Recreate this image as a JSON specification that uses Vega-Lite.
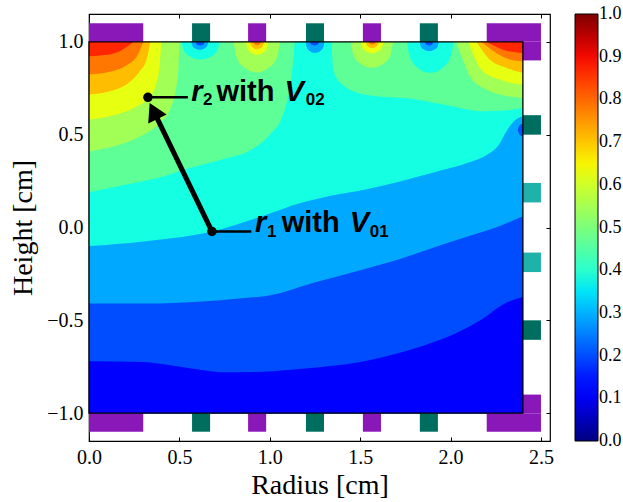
{
"$schema": "https://vega.github.io/schema/vega-lite/v6.json",
"width": 461, "height": 427,
"autosize": "none",
"padding": {"left": 89, "top": 14, "right": 73, "bottom": 61},
"background": "white",
"config": {"view": {"stroke": "black", "strokeWidth": 1.2}, "font": "Liberation Serif"},
"datasets": {
"c": [
{"k":1,"g":"a","v":0.465,"x":0,"y":1,"y2":-1},{"k":1,"g":"a","v":0.465,"x":2.4,"y":1,"y2":-1},
{"k":2,"g":"b","v":0.375,"x":0,"y":0.19,"y2":-1},{"k":2,"g":"b","v":0.375,"x":0.2,"y":0.23,"y2":-1},{"k":2,"g":"b","v":0.375,"x":0.41,"y":0.275,"y2":-1},{"k":2,"g":"b","v":0.375,"x":0.557,"y":0.32,"y2":-1},{"k":2,"g":"b","v":0.375,"x":0.75,"y":0.37,"y2":-1},{"k":2,"g":"b","v":0.375,"x":0.9,"y":0.42,"y2":-1},{"k":2,"g":"b","v":0.375,"x":1.0,"y":0.5,"y2":-1},{"k":2,"g":"b","v":0.375,"x":1.07,"y":0.6,"y2":-1},{"k":2,"g":"b","v":0.375,"x":1.11,"y":0.75,"y2":-1},{"k":2,"g":"b","v":0.375,"x":1.13,"y":0.9,"y2":-1},{"k":2,"g":"b","v":0.375,"x":1.14,"y":1.0,"y2":-1},{"k":2,"g":"b","v":0.375,"x":1.34,"y":1.0,"y2":-1},{"k":2,"g":"b","v":0.375,"x":1.35,"y":0.85,"y2":-1},{"k":2,"g":"b","v":0.375,"x":1.4,"y":0.77,"y2":-1},{"k":2,"g":"b","v":0.375,"x":1.53,"y":0.715,"y2":-1},{"k":2,"g":"b","v":0.375,"x":1.81,"y":0.69,"y2":-1},{"k":2,"g":"b","v":0.375,"x":2.0,"y":0.655,"y2":-1},{"k":2,"g":"b","v":0.375,"x":2.18,"y":0.626,"y2":-1},{"k":2,"g":"b","v":0.375,"x":2.3,"y":0.63,"y2":-1},{"k":2,"g":"b","v":0.375,"x":2.4,"y":0.645,"y2":-1},
{"k":3,"g":"c","v":0.29,"x":0,"y":-0.1,"y2":-1},{"k":3,"g":"c","v":0.29,"x":0.3,"y":-0.075,"y2":-1},{"k":3,"g":"c","v":0.29,"x":0.685,"y":-0.02,"y2":-1},{"k":3,"g":"c","v":0.29,"x":1.0,"y":0.075,"y2":-1},{"k":3,"g":"c","v":0.29,"x":1.165,"y":0.13,"y2":-1},{"k":3,"g":"c","v":0.29,"x":1.33,"y":0.17,"y2":-1},{"k":3,"g":"c","v":0.29,"x":1.53,"y":0.205,"y2":-1},{"k":3,"g":"c","v":0.29,"x":1.9,"y":0.295,"y2":-1},{"k":3,"g":"c","v":0.29,"x":2.1,"y":0.35,"y2":-1},{"k":3,"g":"c","v":0.29,"x":2.2,"y":0.39,"y2":-1},{"k":3,"g":"c","v":0.29,"x":2.27,"y":0.45,"y2":-1},{"k":3,"g":"c","v":0.29,"x":2.31,"y":0.52,"y2":-1},{"k":3,"g":"c","v":0.29,"x":2.36,"y":0.58,"y2":-1},{"k":3,"g":"c","v":0.29,"x":2.4,"y":0.6,"y2":-1},
{"k":4,"g":"d","v":0.2,"x":0,"y":-0.41,"y2":-1},{"k":4,"g":"d","v":0.2,"x":0.3,"y":-0.41,"y2":-1},{"k":4,"g":"d","v":0.2,"x":0.5,"y":-0.405,"y2":-1},{"k":4,"g":"d","v":0.2,"x":0.8,"y":-0.385,"y2":-1},{"k":4,"g":"d","v":0.2,"x":1.05,"y":-0.355,"y2":-1},{"k":4,"g":"d","v":0.2,"x":1.165,"y":-0.32,"y2":-1},{"k":4,"g":"d","v":0.2,"x":1.33,"y":-0.275,"y2":-1},{"k":4,"g":"d","v":0.2,"x":1.5,"y":-0.23,"y2":-1},{"k":4,"g":"d","v":0.2,"x":1.72,"y":-0.17,"y2":-1},{"k":4,"g":"d","v":0.2,"x":1.9,"y":-0.11,"y2":-1},{"k":4,"g":"d","v":0.2,"x":2.09,"y":-0.05,"y2":-1},{"k":4,"g":"d","v":0.2,"x":2.25,"y":0.0,"y2":-1},{"k":4,"g":"d","v":0.2,"x":2.4,"y":0.06,"y2":-1},
{"k":5,"g":"e","v":0.12,"x":0,"y":-0.72,"y2":-1},{"k":5,"g":"e","v":0.12,"x":0.3,"y":-0.725,"y2":-1},{"k":5,"g":"e","v":0.12,"x":0.5,"y":-0.75,"y2":-1},{"k":5,"g":"e","v":0.12,"x":0.76,"y":-0.78,"y2":-1},{"k":5,"g":"e","v":0.12,"x":1.0,"y":-0.775,"y2":-1},{"k":5,"g":"e","v":0.12,"x":1.2,"y":-0.76,"y2":-1},{"k":5,"g":"e","v":0.12,"x":1.5,"y":-0.725,"y2":-1},{"k":5,"g":"e","v":0.12,"x":1.7,"y":-0.68,"y2":-1},{"k":5,"g":"e","v":0.12,"x":1.9,"y":-0.62,"y2":-1},{"k":5,"g":"e","v":0.12,"x":2.05,"y":-0.56,"y2":-1},{"k":5,"g":"e","v":0.12,"x":2.18,"y":-0.49,"y2":-1},{"k":5,"g":"e","v":0.12,"x":2.3,"y":-0.41,"y2":-1},{"k":5,"g":"e","v":0.12,"x":2.4,"y":-0.375,"y2":-1},
{"k":6,"g":"ygL","v":0.545,"x":0,"y":0.41,"y2":1},{"k":6,"g":"ygL","v":0.545,"x":0.15,"y":0.44,"y2":1},{"k":6,"g":"ygL","v":0.545,"x":0.3,"y":0.5,"y2":1},{"k":6,"g":"ygL","v":0.545,"x":0.4,"y":0.57,"y2":1},{"k":6,"g":"ygL","v":0.545,"x":0.45,"y":0.64,"y2":1},{"k":6,"g":"ygL","v":0.545,"x":0.48,"y":0.74,"y2":1},{"k":6,"g":"ygL","v":0.545,"x":0.495,"y":0.86,"y2":1},{"k":6,"g":"ygL","v":0.545,"x":0.5,"y":1,"y2":1},
{"k":6,"g":"ygR","v":0.545,"x":2.03,"y":1,"y2":1},{"k":6,"g":"ygR","v":0.545,"x":2.07,"y":0.9,"y2":1},{"k":6,"g":"ygR","v":0.545,"x":2.106,"y":0.815,"y2":1},{"k":6,"g":"ygR","v":0.545,"x":2.198,"y":0.743,"y2":1},{"k":6,"g":"ygR","v":0.545,"x":2.3,"y":0.71,"y2":1},{"k":6,"g":"ygR","v":0.545,"x":2.4,"y":0.698,"y2":1},
{"k":6,"g":"t1","v":0.375,"x":0.512,"y":1,"y2":1},{"k":6,"g":"t1","v":0.375,"x":0.5225,"y":0.9586,"y2":1},{"k":6,"g":"t1","v":0.375,"x":0.554,"y":0.924,"y2":1},{"k":6,"g":"t1","v":0.375,"x":0.617,"y":0.905,"y2":1},{"k":6,"g":"t1","v":0.375,"x":0.68,"y":0.924,"y2":1},{"k":6,"g":"t1","v":0.375,"x":0.7115,"y":0.9586,"y2":1},{"k":6,"g":"t1","v":0.375,"x":0.722,"y":1,"y2":1},
{"k":6,"g":"t2","v":0.545,"x":0.8,"y":1,"y2":1},{"k":6,"g":"t2","v":0.545,"x":0.8128,"y":0.928,"y2":1},{"k":6,"g":"t2","v":0.545,"x":0.8512,"y":0.868,"y2":1},{"k":6,"g":"t2","v":0.545,"x":0.928,"y":0.835,"y2":1},{"k":6,"g":"t2","v":0.545,"x":1.0048,"y":0.868,"y2":1},{"k":6,"g":"t2","v":0.545,"x":1.0432,"y":0.928,"y2":1},{"k":6,"g":"t2","v":0.545,"x":1.056,"y":1,"y2":1},
{"k":6,"g":"t3","v":0.29,"x":1.198,"y":1,"y2":1},{"k":6,"g":"t3","v":0.29,"x":1.2032,"y":0.9738,"y2":1},{"k":6,"g":"t3","v":0.29,"x":1.2188,"y":0.952,"y2":1},{"k":6,"g":"t3","v":0.29,"x":1.25,"y":0.94,"y2":1},{"k":6,"g":"t3","v":0.29,"x":1.2812,"y":0.952,"y2":1},{"k":6,"g":"t3","v":0.29,"x":1.2968,"y":0.9738,"y2":1},{"k":6,"g":"t3","v":0.29,"x":1.302,"y":1,"y2":1},
{"k":6,"g":"t4","v":0.545,"x":1.448,"y":1,"y2":1},{"k":6,"g":"t4","v":0.545,"x":1.4597,"y":0.939,"y2":1},{"k":6,"g":"t4","v":0.545,"x":1.4948,"y":0.888,"y2":1},{"k":6,"g":"t4","v":0.545,"x":1.565,"y":0.86,"y2":1},{"k":6,"g":"t4","v":0.545,"x":1.6352,"y":0.888,"y2":1},{"k":6,"g":"t4","v":0.545,"x":1.6703,"y":0.939,"y2":1},{"k":6,"g":"t4","v":0.545,"x":1.682,"y":1,"y2":1},
{"k":6,"g":"t5","v":0.375,"x":1.759,"y":1,"y2":1},{"k":6,"g":"t5","v":0.375,"x":1.7718,"y":0.9272,"y2":1},{"k":6,"g":"t5","v":0.375,"x":1.8102,"y":0.8664,"y2":1},{"k":6,"g":"t5","v":0.375,"x":1.887,"y":0.833,"y2":1},{"k":6,"g":"t5","v":0.375,"x":1.9638,"y":0.8664,"y2":1},{"k":6,"g":"t5","v":0.375,"x":2.0022,"y":0.9272,"y2":1},{"k":6,"g":"t5","v":0.375,"x":2.015,"y":1,"y2":1},
{"k":6,"g":"sp","v":0.2,"x":2.372,"y":0.525,"y2":0.525},{"k":6,"g":"sp","v":0.2,"x":2.378,"y":0.506,"y2":0.544},{"k":6,"g":"sp","v":0.2,"x":2.388,"y":0.495,"y2":0.555},{"k":6,"g":"sp","v":0.2,"x":2.4,"y":0.49,"y2":0.56},
{"k":7,"g":"yL","v":0.63,"x":0,"y":0.58,"y2":1},{"k":7,"g":"yL","v":0.63,"x":0.12,"y":0.6,"y2":1},{"k":7,"g":"yL","v":0.63,"x":0.25,"y":0.645,"y2":1},{"k":7,"g":"yL","v":0.63,"x":0.33,"y":0.7,"y2":1},{"k":7,"g":"yL","v":0.63,"x":0.37,"y":0.77,"y2":1},{"k":7,"g":"yL","v":0.63,"x":0.39,"y":0.87,"y2":1},{"k":7,"g":"yL","v":0.63,"x":0.4,"y":1,"y2":1},
{"k":7,"g":"yR","v":0.63,"x":2.097,"y":1,"y2":1},{"k":7,"g":"yR","v":0.63,"x":2.13,"y":0.92,"y2":1},{"k":7,"g":"yR","v":0.63,"x":2.17,"y":0.85,"y2":1},{"k":7,"g":"yR","v":0.63,"x":2.27,"y":0.797,"y2":1},{"k":7,"g":"yR","v":0.63,"x":2.4,"y":0.77,"y2":1},
{"k":7,"g":"u1","v":0.29,"x":0.566,"y":1,"y2":1},{"k":7,"g":"u1","v":0.29,"x":0.5707,"y":0.9813,"y2":1},{"k":7,"g":"u1","v":0.29,"x":0.5848,"y":0.9656,"y2":1},{"k":7,"g":"u1","v":0.29,"x":0.613,"y":0.957,"y2":1},{"k":7,"g":"u1","v":0.29,"x":0.6412,"y":0.9656,"y2":1},{"k":7,"g":"u1","v":0.29,"x":0.6553,"y":0.9813,"y2":1},{"k":7,"g":"u1","v":0.29,"x":0.66,"y":1,"y2":1},
{"k":7,"g":"u2","v":0.63,"x":0.868,"y":1,"y2":1},{"k":7,"g":"u2","v":0.63,"x":0.8742,"y":0.9695,"y2":1},{"k":7,"g":"u2","v":0.63,"x":0.8928,"y":0.944,"y2":1},{"k":7,"g":"u2","v":0.63,"x":0.93,"y":0.93,"y2":1},{"k":7,"g":"u2","v":0.63,"x":0.9672,"y":0.944,"y2":1},{"k":7,"g":"u2","v":0.63,"x":0.9858,"y":0.9695,"y2":1},{"k":7,"g":"u2","v":0.63,"x":0.992,"y":1,"y2":1},
{"k":7,"g":"u3","v":0.2,"x":1.222,"y":1,"y2":1},{"k":7,"g":"u3","v":0.2,"x":1.2245,"y":0.9913,"y2":1},{"k":7,"g":"u3","v":0.2,"x":1.232,"y":0.984,"y2":1},{"k":7,"g":"u3","v":0.2,"x":1.247,"y":0.98,"y2":1},{"k":7,"g":"u3","v":0.2,"x":1.262,"y":0.984,"y2":1},{"k":7,"g":"u3","v":0.2,"x":1.2695,"y":0.9913,"y2":1},{"k":7,"g":"u3","v":0.2,"x":1.272,"y":1,"y2":1},
{"k":7,"g":"u4","v":0.63,"x":1.503,"y":1,"y2":1},{"k":7,"g":"u4","v":0.63,"x":1.5093,"y":0.973,"y2":1},{"k":7,"g":"u4","v":0.63,"x":1.5282,"y":0.9504,"y2":1},{"k":7,"g":"u4","v":0.63,"x":1.566,"y":0.938,"y2":1},{"k":7,"g":"u4","v":0.63,"x":1.6038,"y":0.9504,"y2":1},{"k":7,"g":"u4","v":0.63,"x":1.6227,"y":0.973,"y2":1},{"k":7,"g":"u4","v":0.63,"x":1.629,"y":1,"y2":1},
{"k":7,"g":"u5","v":0.29,"x":1.829,"y":1,"y2":1},{"k":7,"g":"u5","v":0.29,"x":1.8343,"y":0.9782,"y2":1},{"k":7,"g":"u5","v":0.29,"x":1.8502,"y":0.96,"y2":1},{"k":7,"g":"u5","v":0.29,"x":1.882,"y":0.95,"y2":1},{"k":7,"g":"u5","v":0.29,"x":1.9138,"y":0.96,"y2":1},{"k":7,"g":"u5","v":0.29,"x":1.9297,"y":0.9782,"y2":1},{"k":7,"g":"u5","v":0.29,"x":1.935,"y":1,"y2":1},
{"k":8,"g":"oyL","v":0.71,"x":0,"y":0.716,"y2":1},{"k":8,"g":"oyL","v":0.71,"x":0.12,"y":0.735,"y2":1},{"k":8,"g":"oyL","v":0.71,"x":0.22,"y":0.78,"y2":1},{"k":8,"g":"oyL","v":0.71,"x":0.28,"y":0.84,"y2":1},{"k":8,"g":"oyL","v":0.71,"x":0.32,"y":0.91,"y2":1},{"k":8,"g":"oyL","v":0.71,"x":0.34,"y":1,"y2":1},
{"k":8,"g":"oyR","v":0.71,"x":2.143,"y":1,"y2":1},{"k":8,"g":"oyR","v":0.71,"x":2.216,"y":0.905,"y2":1},{"k":8,"g":"oyR","v":0.71,"x":2.309,"y":0.86,"y2":1},{"k":8,"g":"oyR","v":0.71,"x":2.4,"y":0.833,"y2":1},
{"k":8,"g":"w1","v":0.2,"x":0.591,"y":1,"y2":1},{"k":8,"g":"w1","v":0.2,"x":0.5934,"y":0.9913,"y2":1},{"k":8,"g":"w1","v":0.2,"x":0.6006,"y":0.984,"y2":1},{"k":8,"g":"w1","v":0.2,"x":0.615,"y":0.98,"y2":1},{"k":8,"g":"w1","v":0.2,"x":0.6294,"y":0.984,"y2":1},{"k":8,"g":"w1","v":0.2,"x":0.6366,"y":0.9913,"y2":1},{"k":8,"g":"w1","v":0.2,"x":0.639,"y":1,"y2":1},
{"k":8,"g":"w2","v":0.71,"x":0.892,"y":1,"y2":1},{"k":8,"g":"w2","v":0.71,"x":0.8958,"y":0.9826,"y2":1},{"k":8,"g":"w2","v":0.71,"x":0.9072,"y":0.968,"y2":1},{"k":8,"g":"w2","v":0.71,"x":0.93,"y":0.96,"y2":1},{"k":8,"g":"w2","v":0.71,"x":0.9528,"y":0.968,"y2":1},{"k":8,"g":"w2","v":0.71,"x":0.9642,"y":0.9826,"y2":1},{"k":8,"g":"w2","v":0.71,"x":0.968,"y":1,"y2":1},
{"k":8,"g":"w3","v":0.71,"x":1.532,"y":1,"y2":1},{"k":8,"g":"w3","v":0.71,"x":1.5355,"y":0.9856,"y2":1},{"k":8,"g":"w3","v":0.71,"x":1.546,"y":0.9736,"y2":1},{"k":8,"g":"w3","v":0.71,"x":1.567,"y":0.967,"y2":1},{"k":8,"g":"w3","v":0.71,"x":1.588,"y":0.9736,"y2":1},{"k":8,"g":"w3","v":0.71,"x":1.5985,"y":0.9856,"y2":1},{"k":8,"g":"w3","v":0.71,"x":1.602,"y":1,"y2":1},
{"k":8,"g":"w4","v":0.2,"x":1.859,"y":1,"y2":1},{"k":8,"g":"w4","v":0.2,"x":1.8612,"y":0.9913,"y2":1},{"k":8,"g":"w4","v":0.2,"x":1.8678,"y":0.984,"y2":1},{"k":8,"g":"w4","v":0.2,"x":1.881,"y":0.98,"y2":1},{"k":8,"g":"w4","v":0.2,"x":1.8942,"y":0.984,"y2":1},{"k":8,"g":"w4","v":0.2,"x":1.9008,"y":0.9913,"y2":1},{"k":8,"g":"w4","v":0.2,"x":1.903,"y":1,"y2":1},
{"k":9,"g":"oL","v":0.785,"x":0,"y":0.824,"y2":1},{"k":9,"g":"oL","v":0.785,"x":0.12,"y":0.84,"y2":1},{"k":9,"g":"oL","v":0.785,"x":0.21,"y":0.875,"y2":1},{"k":9,"g":"oL","v":0.785,"x":0.27,"y":0.93,"y2":1},{"k":9,"g":"oL","v":0.785,"x":0.3,"y":1,"y2":1},
{"k":9,"g":"oR","v":0.785,"x":2.17,"y":1,"y2":1},{"k":9,"g":"oR","v":0.785,"x":2.253,"y":0.94,"y2":1},{"k":9,"g":"oR","v":0.785,"x":2.327,"y":0.905,"y2":1},{"k":9,"g":"oR","v":0.785,"x":2.4,"y":0.895,"y2":1},
{"k":9,"g":"z1","v":0.785,"x":0.91,"y":1,"y2":1},{"k":9,"g":"z1","v":0.785,"x":0.912,"y":0.9922,"y2":1},{"k":9,"g":"z1","v":0.785,"x":0.918,"y":0.9856,"y2":1},{"k":9,"g":"z1","v":0.785,"x":0.93,"y":0.982,"y2":1},{"k":9,"g":"z1","v":0.785,"x":0.942,"y":0.9856,"y2":1},{"k":9,"g":"z1","v":0.785,"x":0.948,"y":0.9922,"y2":1},{"k":9,"g":"z1","v":0.785,"x":0.95,"y":1,"y2":1},
{"k":9,"g":"z2","v":0.785,"x":1.549,"y":1,"y2":1},{"k":9,"g":"z2","v":0.785,"x":1.5508,"y":0.9935,"y2":1},{"k":9,"g":"z2","v":0.785,"x":1.5562,"y":0.988,"y2":1},{"k":9,"g":"z2","v":0.785,"x":1.567,"y":0.985,"y2":1},{"k":9,"g":"z2","v":0.785,"x":1.5778,"y":0.988,"y2":1},{"k":9,"g":"z2","v":0.785,"x":1.5832,"y":0.9935,"y2":1},{"k":9,"g":"z2","v":0.785,"x":1.585,"y":1,"y2":1},
{"k":10,"g":"rL","v":0.87,"x":0,"y":0.922,"y2":1},{"k":10,"g":"rL","v":0.87,"x":0.1,"y":0.93,"y2":1},{"k":10,"g":"rL","v":0.87,"x":0.17,"y":0.95,"y2":1},{"k":10,"g":"rL","v":0.87,"x":0.22,"y":0.98,"y2":1},{"k":10,"g":"rL","v":0.87,"x":0.245,"y":1,"y2":1},
{"k":10,"g":"rR","v":0.87,"x":2.198,"y":1,"y2":1},{"k":10,"g":"rR","v":0.87,"x":2.29,"y":0.958,"y2":1},{"k":10,"g":"rR","v":0.87,"x":2.4,"y":0.94,"y2":1}
],
"e": [
{"t":"A","x":0,"x2":0.3,"y":1.0,"y2":1.1},{"t":"B","x":0.57,"x2":0.67,"y":1.0,"y2":1.1},{"t":"A","x":0.88,"x2":0.98,"y":1.0,"y2":1.1},{"t":"B","x":1.2,"x2":1.3,"y":1.0,"y2":1.1},{"t":"A","x":1.515,"x2":1.615,"y":1.0,"y2":1.1},{"t":"B","x":1.83,"x2":1.93,"y":1.0,"y2":1.1},{"t":"A","x":2.2,"x2":2.5,"y":1.0,"y2":1.1},{"t":"A","x":2.4,"x2":2.5,"y":0.9,"y2":1.0},
{"t":"A","x":0,"x2":0.3,"y":-1.1,"y2":-1.0},{"t":"B","x":0.57,"x2":0.67,"y":-1.1,"y2":-1.0},{"t":"A","x":0.88,"x2":0.98,"y":-1.1,"y2":-1.0},{"t":"B","x":1.2,"x2":1.3,"y":-1.1,"y2":-1.0},{"t":"A","x":1.515,"x2":1.615,"y":-1.1,"y2":-1.0},{"t":"B","x":1.83,"x2":1.93,"y":-1.1,"y2":-1.0},{"t":"A","x":2.2,"x2":2.5,"y":-1.1,"y2":-1.0},{"t":"A","x":2.4,"x2":2.5,"y":-1.0,"y2":-0.9},
{"t":"B","x":2.4,"x2":2.5,"y":0.5,"y2":0.605},{"t":"C","x":2.4,"x2":2.5,"y":0.135,"y2":0.24},{"t":"C","x":2.4,"x2":2.5,"y":-0.24,"y2":-0.135},{"t":"B","x":2.4,"x2":2.5,"y":-0.605,"y2":-0.5}
],
"t": [
{"s":"r","x":0.566,"y":0.68,"f":"i"},{"s":"2","x":0.631,"y":0.662,"f":"s"},{"s":"with","x":0.705,"y":0.68,"f":"n"},{"s":"V","x":1.082,"y":0.68,"f":"i"},{"s":"02","x":1.199,"y":0.662,"f":"s"},
{"s":"r","x":0.918,"y":-0.022,"f":"i"},{"s":"1","x":0.985,"y":-0.052,"f":"s"},{"s":"with","x":1.066,"y":-0.022,"f":"n"},{"s":"V","x":1.442,"y":-0.022,"f":"i"},{"s":"01","x":1.553,"y":-0.052,"f":"s"}
]
},
"encoding": {
"x": {"field": "x", "type": "quantitative", "scale": {"domain": [0, 2.55], "nice": false, "zero": false}, "axis": null},
"y": {"field": "y", "type": "quantitative", "scale": {"domain": [-1.15, 1.15], "nice": false, "zero": false}, "axis": null}
},
"layer": [
{
"data": {"name": "c"},
"encoding": {
"x": {"field": "x", "type": "quantitative", "scale": {"domain": [0, 2.55], "nice": false, "zero": false},
 "axis": {"orient": "bottom", "values": [0, 0.5, 1, 1.5, 2, 2.5], "format": ".1f", "title": "Radius [cm]", "titleFont": "Liberation Serif", "titleFontSize": 28, "titleFontWeight": "normal", "titleColor": "black", "titlePadding": 4, "labelFont": "Liberation Serif", "labelFontSize": 20, "labelColor": "black", "labelFlush": false, "tickColor": "black", "tickSize": -4, "labelPadding": 10, "domain": false, "grid": false}},
"y": {"field": "y", "type": "quantitative", "stack": null, "scale": {"domain": [-1.15, 1.15], "nice": false, "zero": false},
 "axis": {"orient": "left", "values": [-1, -0.5, 0, 0.5, 1], "format": ".1f", "title": "Height [cm]", "titleFont": "Liberation Serif", "titleFontSize": 28, "titleFontWeight": "normal", "titleColor": "black", "titlePadding": 9, "labelFont": "Liberation Serif", "labelFontSize": 20, "labelColor": "black", "labelFlush": false, "tickColor": "black", "tickSize": -4, "labelPadding": 10, "domain": false, "grid": false}},
"y2": {"field": "y2"},
"color": {"field": "v", "type": "quantitative",
 "scale": {"domain": [0, 0.11, 0.125, 0.34, 0.35, 0.375, 0.64, 0.65, 0.66, 0.89, 0.91, 1],
  "range": ["#000080", "#0000ff", "#0000ff", "#00dbff", "#00e5f7", "#15ffe2", "#efff08", "#f7f500", "#ffec00", "#ff1300", "#e80000", "#800000"], "interpolate": "rgb"},
 "legend": {"orient": "none", "legendX": 486, "legendY": 0, "direction": "vertical", "gradientLength": 427, "gradientThickness": 23, "title": null, "values": [0, 0.1, 0.2, 0.3, 0.4, 0.5, 0.6, 0.7, 0.8, 0.9, 1], "format": ".1f", "labelFont": "Liberation Serif", "labelFontSize": 18, "labelColor": "black", "labelOffset": 1, "labelOverlap": false, "gradientStrokeColor": "black", "gradientStrokeWidth": 1, "padding": 0, "offset": 0,
  "encode": {"labels": {"update": {"baseline": {"value": "middle"}}}}}},
"detail": {"field": "g"}
},
"layer": [
{"transform": [{"filter": "datum.k == 1"}], "mark": {"type": "area", "interpolate": "monotone"}},
{"transform": [{"filter": "datum.k == 2"}], "mark": {"type": "area", "interpolate": "monotone"}},
{"transform": [{"filter": "datum.k == 3"}], "mark": {"type": "area", "interpolate": "monotone"}},
{"transform": [{"filter": "datum.k == 4"}], "mark": {"type": "area", "interpolate": "monotone"}},
{"transform": [{"filter": "datum.k == 5"}], "mark": {"type": "area", "interpolate": "monotone"}},
{"transform": [{"filter": "datum.k == 6"}], "mark": {"type": "area", "interpolate": "monotone"}},
{"transform": [{"filter": "datum.k == 7"}], "mark": {"type": "area", "interpolate": "monotone"}},
{"transform": [{"filter": "datum.k == 8"}], "mark": {"type": "area", "interpolate": "monotone"}},
{"transform": [{"filter": "datum.k == 9"}], "mark": {"type": "area", "interpolate": "monotone"}},
{"transform": [{"filter": "datum.k == 10"}], "mark": {"type": "area", "interpolate": "monotone"}}
]
},
{
"data": {"name": "e"},
"mark": {"type": "rect"},
"encoding": {
"x2": {"field": "x2"}, "y2": {"field": "y2"},
"fill": {"field": "t", "type": "nominal", "scale": {"domain": ["A", "B", "C"], "range": ["#8a17b8", "#006e5f", "#20b2aa"]}, "legend": null}
}
},
{
"data": {"values": [{"x": 0, "x2": 2.4, "y": -1, "y2": 1}]},
"mark": {"type": "rect", "filled": false, "stroke": "black", "strokeWidth": 1.3},
"encoding": {
"x": {"field": "x", "type": "quantitative", "scale": {"domain": [0, 2.55], "nice": false, "zero": false},
 "axis": {"orient": "top", "values": [0, 0.5, 1, 1.5, 2, 2.5], "labels": false, "title": null, "tickColor": "black", "tickSize": -4, "domain": false, "grid": false}},
"y": {"field": "y", "type": "quantitative", "scale": {"domain": [-1.15, 1.15], "nice": false, "zero": false},
 "axis": {"orient": "right", "values": [-1, -0.5, 0, 0.5, 1], "labels": false, "title": null, "tickColor": "black", "tickSize": -4, "domain": false, "grid": false}},
"x2": {"field": "x2"}, "y2": {"field": "y2"}
}
},
{
"data": {"values": [{"x": 0.68, "y": -0.021, "x2": 0.357, "y2": 0.628}]},
"mark": {"type": "rule", "color": "black", "strokeWidth": 5},
"encoding": {"x2": {"field": "x2"}, "y2": {"field": "y2"}}
},
{
"data": {"values": [{"x": 0.326, "y": 0.701, "x2": 0.547, "y2": 0.701}, {"x": 0.68, "y": -0.021, "x2": 0.898, "y2": -0.021}]},
"mark": {"type": "rule", "color": "black", "strokeWidth": 2.5},
"encoding": {"x2": {"field": "x2"}, "y2": {"field": "y2"}}
},
{
"data": {"values": [{"x": 0.357, "y": 0.628}]},
"mark": {"type": "point", "shape": "triangle-up", "filled": true, "color": "black", "opacity": 1, "size": 420, "angle": 334},
"encoding": {}
},
{
"data": {"values": [{"x": 0.326, "y": 0.701}, {"x": 0.68, "y": -0.021}]},
"mark": {"type": "circle", "color": "black", "opacity": 1, "size": 90},
"encoding": {}
},
{
"data": {"name": "t"},
"transform": [{"filter": "datum.f == 'i'"}],
"mark": {"type": "text", "align": "left", "baseline": "alphabetic", "font": "Liberation Sans", "fontWeight": "bold", "fontStyle": "italic", "fontSize": 29, "color": "black"},
"encoding": {"text": {"field": "s"}}
},
{
"data": {"name": "t"},
"transform": [{"filter": "datum.f == 'n'"}],
"mark": {"type": "text", "align": "left", "baseline": "alphabetic", "font": "Liberation Sans", "fontWeight": "bold", "fontSize": 29, "color": "black"},
"encoding": {"text": {"field": "s"}}
},
{
"data": {"name": "t"},
"transform": [{"filter": "datum.f == 's'"}],
"mark": {"type": "text", "align": "left", "baseline": "alphabetic", "font": "Liberation Sans", "fontWeight": "bold", "fontSize": 17, "color": "black"},
"encoding": {"text": {"field": "s"}}
}
],
"resolve": {"axis": {"x": "independent", "y": "independent"}}
}
